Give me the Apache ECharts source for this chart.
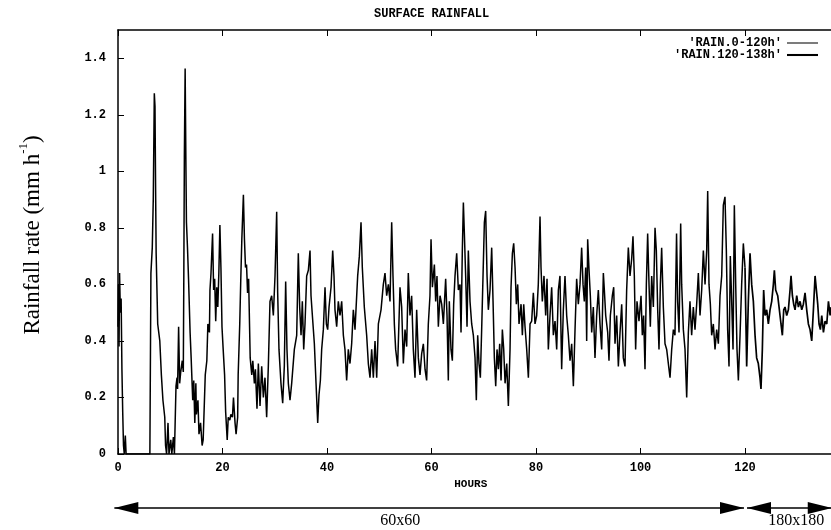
<!DOCTYPE html>
<html><head><meta charset="utf-8">
<script src="https://cdn.jsdelivr.net/npm/echarts@6/dist/echarts.min.js"></script>
<style>html,body{margin:0;padding:0;background:#fff}#c{width:831px;height:530px}</style>
</head><body><div id="c"></div>
<script>
// Hours axis ticks and rainfall-rate axis ticks
const hourTicks = [0, 20, 40, 60, 80, 100, 120, 140];
const rateTicks = [0, 0.2, 0.4, 0.6, 0.8, 1, 1.2, 1.4];
const seriesNames = ["'RAIN.0-120h'", "'RAIN.120-138h'"];
const resolutionLabels = ['60x60', '180x180'];

// [hour, rainfall rate mm/h]
const rain0to120 = [
[0,0.45],[0.1,0.6],[0.2,0.38],[0.3,0.64],[0.45,0.5],[0.6,0.55],[0.75,0.3],[0.9,0.15],[1.05,0.03],[1.2,0],[1.4,0.065],[1.55,0],[6.1,0],
[6.3,0.64],[6.56,0.73],[6.75,0.9],[6.95,1.276],[7.08,1.23],[7.2,0.93],[7.3,0.71],[7.6,0.46],[8.0,0.4],[8.3,0.28],[8.6,0.19],[8.95,0.13],
[9.1,0.03],[9.3,0],[9.57,0.11],[9.76,0],[10.1,0.05],[10.3,0],[10.6,0.06],[10.8,0],[11.1,0.24],[11.3,0.27],[11.4,0.23],[11.6,0.45],
[11.8,0.25],[12.0,0.29],[12.3,0.33],[12.5,0.29],[12.6,0.64],[12.7,1.05],[12.85,1.364],[13.0,1.02],[13.1,0.82],[13.3,0.73],[13.5,0.62],
[13.8,0.43],[14.0,0.34],[14.3,0.19],[14.5,0.26],[14.7,0.11],[14.9,0.25],[15.0,0.14],[15.3,0.19],[15.5,0.07],[15.8,0.11],[16.1,0.03],
[16.3,0.05],[16.7,0.28],[17.0,0.33],[17.2,0.46],[17.5,0.43],[17.6,0.58],[17.8,0.64],[18.1,0.78],[18.3,0.58],[18.5,0.62],[18.7,0.47],
[18.9,0.59],[19.1,0.52],[19.3,0.64],[19.5,0.81],[19.7,0.66],[19.9,0.45],[20.1,0.38],[20.4,0.28],[20.6,0.15],[20.9,0.05],[21.1,0.13],
[21.4,0.12],[21.6,0.14],[21.9,0.13],[22.1,0.2],[22.4,0.11],[22.6,0.07],[22.9,0.13],[23.0,0.28],[23.3,0.46],[23.5,0.62],[23.7,0.76],
[24.0,0.917],[24.2,0.76],[24.4,0.66],[24.6,0.67],[24.8,0.57],[25.0,0.62],[25.3,0.34],[25.6,0.28],[25.8,0.33],[26.1,0.25],[26.3,0.3],
[26.6,0.16],[26.86,0.32],[27.18,0.17],[27.5,0.31],[27.82,0.2],[28.13,0.27],[28.45,0.13],[28.77,0.31],[29.09,0.54],[29.41,0.56],
[29.73,0.49],[30.05,0.63],[30.37,0.857],[30.56,0.57],[30.81,0.37],[31.19,0.25],[31.52,0.18],[31.83,0.31],[32.09,0.61],[32.34,0.37],
[32.6,0.25],[32.92,0.19],[33.24,0.25],[33.75,0.37],[34.2,0.42],[34.51,0.71],[34.77,0.52],[35.03,0.42],[35.28,0.54],[35.54,0.37],
[35.79,0.46],[36.11,0.63],[36.43,0.65],[36.75,0.72],[36.94,0.56],[37.2,0.49],[37.58,0.39],[37.9,0.25],[38.22,0.11],[38.47,0.21],
[38.73,0.26],[38.98,0.37],[39.3,0.44],[39.62,0.59],[39.88,0.46],[40.13,0.44],[40.39,0.52],[40.77,0.59],[41.09,0.72],[41.34,0.63],
[41.53,0.51],[41.85,0.45],[42.17,0.54],[42.49,0.49],[42.81,0.54],[43.13,0.42],[43.44,0.37],[43.76,0.26],[44.08,0.37],[44.4,0.32],
[44.72,0.39],[45.04,0.51],[45.36,0.44],[45.87,0.63],[46.19,0.7],[46.51,0.82],[46.76,0.66],[47.14,0.52],[47.59,0.42],[47.91,0.32],
[48.23,0.27],[48.55,0.37],[48.87,0.27],[49.19,0.4],[49.51,0.27],[49.83,0.46],[50.34,0.51],[50.78,0.6],[51.1,0.64],[51.42,0.56],
[51.74,0.6],[52.06,0.54],[52.38,0.82],[52.63,0.63],[52.89,0.46],[53.14,0.37],[53.52,0.31],[53.97,0.59],[54.29,0.52],[54.61,0.32],
[54.93,0.44],[55.25,0.38],[55.56,0.64],[55.88,0.49],[56.2,0.56],[56.52,0.37],[56.84,0.27],[57.16,0.51],[57.48,0.34],[57.8,0.28],
[58.12,0.355],[58.44,0.39],[58.76,0.3],[59.07,0.26],[59.39,0.46],[59.71,0.56],[59.91,0.76],[60.17,0.59],[60.55,0.67],[60.8,0.54],
[61.05,0.63],[61.31,0.45],[61.63,0.56],[61.95,0.53],[62.27,0.46],[62.71,0.62],[62.97,0.49],[63.22,0.26],[63.41,0.54],[63.73,0.37],
[63.99,0.33],[64.24,0.53],[64.5,0.63],[64.82,0.71],[65.14,0.58],[65.46,0.6],[65.65,0.43],[65.9,0.72],[66.1,0.89],[66.29,0.78],
[66.54,0.63],[66.8,0.45],[67.05,0.72],[67.37,0.54],[67.69,0.46],[68.01,0.42],[68.33,0.34],[68.58,0.19],[68.84,0.42],[69.09,0.32],
[69.35,0.27],[69.6,0.44],[69.86,0.63],[70.12,0.82],[70.37,0.86],[70.63,0.63],[70.88,0.51],[71.2,0.58],[71.52,0.73],[71.78,0.54],
[72.03,0.34],[72.29,0.24],[72.54,0.37],[72.8,0.3],[73.05,0.39],[73.31,0.26],[73.56,0.44],[73.82,0.37],[74.08,0.25],[74.4,0.32],
[74.71,0.17],[75.03,0.37],[75.22,0.59],[75.48,0.71],[75.73,0.745],[75.99,0.66],[76.24,0.53],[76.5,0.6],[76.75,0.46],[77.14,0.53],
[77.39,0.42],[77.65,0.53],[77.9,0.45],[78.22,0.37],[78.54,0.27],[78.86,0.46],[79.17,0.47],[79.49,0.57],[79.81,0.46],[80.13,0.49],
[80.44,0.6],[80.77,0.84],[80.96,0.66],[81.21,0.54],[81.53,0.63],[81.85,0.49],[82.11,0.62],[82.36,0.37],[82.68,0.49],[83.0,0.59],
[83.32,0.42],[83.64,0.47],[83.96,0.37],[84.28,0.58],[84.59,0.63],[84.91,0.3],[85.23,0.51],[85.55,0.63],[85.87,0.49],[86.19,0.42],
[86.51,0.33],[86.83,0.39],[87.15,0.24],[87.47,0.44],[87.78,0.62],[88.1,0.53],[88.42,0.6],[88.74,0.73],[89.0,0.6],[89.25,0.54],
[89.51,0.66],[89.7,0.4],[89.89,0.76],[90.15,0.65],[90.4,0.56],[90.66,0.43],[90.97,0.52],[91.29,0.34],[91.61,0.49],[91.93,0.58],
[92.25,0.46],[92.57,0.37],[92.89,0.64],[93.08,0.58],[93.34,0.49],[93.72,0.43],[93.97,0.33],[94.23,0.49],[94.61,0.56],[94.87,0.59],
[95.12,0.39],[95.44,0.49],[95.76,0.31],[96.08,0.43],[96.4,0.53],[96.71,0.34],[97.03,0.31],[97.35,0.58],[97.67,0.73],[97.99,0.63],
[98.31,0.69],[98.56,0.77],[98.82,0.63],[99.07,0.37],[99.33,0.54],[99.71,0.47],[100.1,0.56],[100.35,0.42],[100.6,0.49],[100.86,0.3],
[101.12,0.6],[101.37,0.78],[101.63,0.6],[101.88,0.45],[102.14,0.63],[102.46,0.52],[102.78,0.8],[103.03,0.72],[103.29,0.51],[103.54,0.37],
[103.8,0.6],[104.05,0.73],[104.37,0.52],[104.69,0.39],[105.01,0.37],[105.33,0.32],[105.65,0.27],[105.97,0.37],[106.29,0.44],[106.6,0.42],
[106.9,0.78],[107.11,0.54],[107.37,0.43],[107.69,0.815],[107.88,0.6],[108.2,0.44],[108.52,0.37],[108.84,0.2],[109.16,0.43],[109.47,0.54],
[109.79,0.42],[110.11,0.52],[110.43,0.44],[110.75,0.53],[111.07,0.64],[111.39,0.49],[111.71,0.58],[112.03,0.72],[112.35,0.6],[112.67,0.72],
[112.86,0.93],[113.11,0.6],[113.37,0.53],[113.62,0.42],[113.94,0.46],[114.26,0.37],[114.58,0.44],[114.9,0.39],[115.22,0.56],[115.54,0.63],
[115.85,0.88],[116.17,0.91],[116.43,0.72],[116.68,0.44],[116.94,0.31],[117.19,0.7],[117.45,0.54],[117.71,0.37],[117.96,0.88],[118.22,0.6],
[118.47,0.37],[118.73,0.26],[119.05,0.42],[119.36,0.6],[119.68,0.745],[120,0.66]
];
const rain120to138 = [
[120,0.66],[120.32,0.31],[120.64,0.54],[120.96,0.71],[121.28,0.6],[121.6,0.54],[121.92,0.42],[122.23,0.34],[122.55,0.32],[122.87,0.27],
[123.06,0.23],[123.32,0.37],[123.57,0.58],[123.83,0.49],[124.15,0.51],[124.47,0.46],[124.79,0.51],[125.11,0.54],[125.43,0.6],[125.62,0.65],
[125.87,0.58],[126.26,0.56],[126.58,0.51],[126.89,0.46],[127.15,0.42],[127.41,0.51],[127.66,0.52],[127.98,0.49],[128.3,0.51],[128.62,0.58],
[128.81,0.63],[129.07,0.56],[129.32,0.53],[129.58,0.51],[129.9,0.56],[130.22,0.52],[130.54,0.54],[130.86,0.51],[131.17,0.53],[131.49,0.57],
[131.81,0.51],[132.13,0.46],[132.45,0.44],[132.77,0.4],[133.09,0.51],[133.41,0.63],[133.6,0.63],[133.92,0.53],[134.17,0.46],[134.43,0.44],
[134.69,0.49],[135.01,0.43],[135.33,0.47],[135.65,0.46],[135.97,0.54],[136.29,0.49],[136.48,0.52],[137.0,0.47],[137.5,0.5],[138,0.48]
];

const mono = 'Liberation Mono';
const chart = echarts.init(document.getElementById('c'), null, {renderer: 'canvas'});
const axisCommon = {
  type: 'value',
  axisLine: {show: true, lineStyle: {color: '#000', width: 1.5}},
  axisTick: {show: true, inside: true, length: 6, lineStyle: {color: '#000', width: 1}},
  splitLine: {show: false}
};
chart.setOption({
  animation: false,
  backgroundColor: '#fff',
  title: {
    text: 'SURFACE RAINFALL', left: 369, top: 3,
    textStyle: {fontFamily: mono, fontWeight: 'bold', fontSize: 12, color: '#000'}
  },
  legend: {
    data: [
      {name: seriesNames[0], icon: 'path://M0,0h30v1h-30z'},
      {name: seriesNames[1], icon: 'path://M0,0h30v2h-30z'}
    ],
    orient: 'vertical', right: 13, top: 37, align: 'right',
    itemWidth: 31, itemHeight: 10, itemGap: 0, padding: 0,
    textStyle: {fontFamily: mono, fontWeight: 'bold', fontSize: 12, color: '#000', lineHeight: 12}
  },
  grid: {left: 118, top: 30, width: 731.5, bottom: 76, outerBoundsMode: 'none', containLabel: false},
  xAxis: [
    Object.assign({}, axisCommon, {
      min: hourTicks[0], max: hourTicks[hourTicks.length - 1], interval: 20,
      axisLabel: {color: '#000', fontFamily: mono, fontWeight: 'bold', fontSize: 12, margin: 8},
      name: 'HOURS', nameLocation: 'middle', nameGap: 23,
      nameTextStyle: {fontFamily: mono, fontWeight: 'bold', fontSize: 11, color: '#000', padding: [0, 26, 0, 0]}
    }),
    Object.assign({}, axisCommon, {
      position: 'top', min: hourTicks[0], max: hourTicks[hourTicks.length - 1], interval: 20,
      axisLabel: {show: false}
    })
  ],
  yAxis: [
    Object.assign({}, axisCommon, {
      min: rateTicks[0], max: 1.5, interval: 0.2,
      axisLabel: {color: '#000', fontFamily: mono, fontWeight: 'bold', fontSize: 12, margin: 12, showMaxLabel: false},
      name: '{a|Rainfall rate (mm h}{s|-1}{a|)}', nameLocation: 'middle', nameGap: 74, nameRotate: 90,
      nameTextStyle: {
        color: '#000', padding: [0, 0, 0, 14],
        rich: {
          a: {fontFamily: 'Liberation Serif', fontSize: 23, color: '#000', lineHeight: 27, verticalAlign: 'bottom'},
          s: {fontFamily: 'Liberation Serif', fontSize: 13, color: '#000', lineHeight: 27, verticalAlign: 'top', padding: [0, 0, 12, 0]}
        }
      }
    })
  ],
  series: [
    {name: seriesNames[0], type: 'line', data: rain0to120, symbol: 'none', showSymbol: false,
     lineStyle: {color: '#000', width: 1.5}, itemStyle: {color: '#000'}},
    {name: seriesNames[1], type: 'line', data: rain120to138, symbol: 'none', showSymbol: false,
     lineStyle: {color: '#000', width: 1.7}, itemStyle: {color: '#000'}}
  ]
});

// Resolution arrows below the axis, positioned through the hours scale
const px = h => chart.convertToPixel({xAxisIndex: 0}, h);
const yArrow = 508;
function head(tipX, dir) {
  const L = 24, W = 6;
  return {type: 'polygon', silent: true,
    shape: {points: [[tipX, yArrow], [tipX - dir * L, yArrow - W], [tipX - dir * L, yArrow + W]]},
    style: {fill: '#000'}};
}
function shaft(x1, x2) {
  return {type: 'line', silent: true, shape: {x1: x1, y1: yArrow, x2: x2, y2: yArrow},
    style: {stroke: '#000', lineWidth: 1.5}};
}
const a0 = px(-0.7), a1 = px(120) - 1, b0 = px(120) + 2, b1 = px(136.6);
chart.setOption({
  graphic: [
    shaft(a0, a1), head(a0, -1), head(a1, 1),
    shaft(b0, b1), head(b0, -1), head(b1, 1),
    {type: 'text', silent: true, x: px(54), y: 521,
     style: {text: resolutionLabels[0], font: '16px "Liberation Serif"', fill: '#000', align: 'center', verticalAlign: 'middle'}},
    {type: 'text', silent: true, x: px(129.8), y: 521,
     style: {text: resolutionLabels[1], font: '16px "Liberation Serif"', fill: '#000', align: 'center', verticalAlign: 'middle'}}
  ]
});
</script>
</body></html>
